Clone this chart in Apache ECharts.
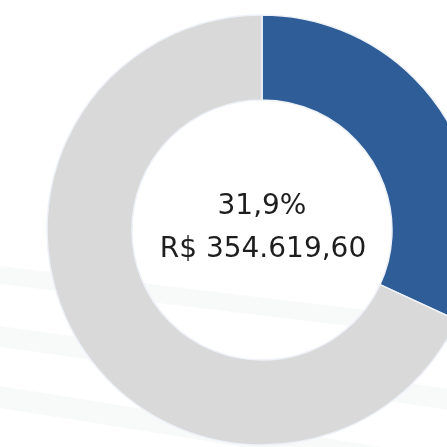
<!DOCTYPE html>
<html>
<head>
<meta charset="utf-8">
<script src="https://cdn.jsdelivr.net/npm/echarts@6/dist/echarts.min.js"></script>
<style>
  html, body { margin: 0; padding: 0; background: #ffffff; }
  #chart { width: 447px; height: 447px; }
</style>
</head>
<body>
<div id="chart"></div>
<script>
// dados do gráfico
const categorias = ['Realizado', 'Restante'];
const percentuais = [31.9, 68.1];
const cores = ['#2f5d98', '#d9d9d9'];
const rotuloPercentual = '31,9%';
const rotuloValor = 'R$ 354.619,60';

const chart = echarts.init(document.getElementById('chart'));

// faixas claras do fundo (decoração)
const faixa = (y0, y1, inclinacao) => ({
  type: 'polygon',
  z: 0,
  silent: true,
  shape: { points: [[0, y0], [447, y0 + 447 * inclinacao], [447, y1 + 447 * inclinacao], [0, y1]] },
  style: { fill: '#f8f9f9' }
});

const option = {
  backgroundColor: '#ffffff',
  animation: false,
  graphic: [
    faixa(266, 284, 0.12),
    faixa(326, 347, 0.14),
    faixa(386, 408, 0.16),
    // texto central
    {
      type: 'text',
      z: 10,
      x: 262, y: 207,
      style: {
        text: rotuloPercentual,
        font: '28px "DejaVu Sans"',
        fill: '#1e1e1e',
        align: 'center',
        verticalAlign: 'middle'
      }
    },
    {
      type: 'text',
      z: 10,
      x: 263, y: 250,
      style: {
        text: rotuloValor,
        font: '28px "DejaVu Sans"',
        fill: '#1e1e1e',
        align: 'center',
        verticalAlign: 'middle'
      }
    }
  ],
  series: [
    {
      type: 'pie',
      z: 2,
      center: [262, 230],
      radius: [130, 215],
      startAngle: 90,
      clockwise: true,
      silent: true,
      label: { show: false },
      labelLine: { show: false },
      itemStyle: { borderColor: '#eef2f8', borderWidth: 1.5 },
      data: categorias.map((nome, i) => ({
        name: nome,
        value: percentuais[i],
        itemStyle: { color: cores[i] }
      }))
    }
  ]
};

chart.setOption(option);
</script>
</body>
</html>
